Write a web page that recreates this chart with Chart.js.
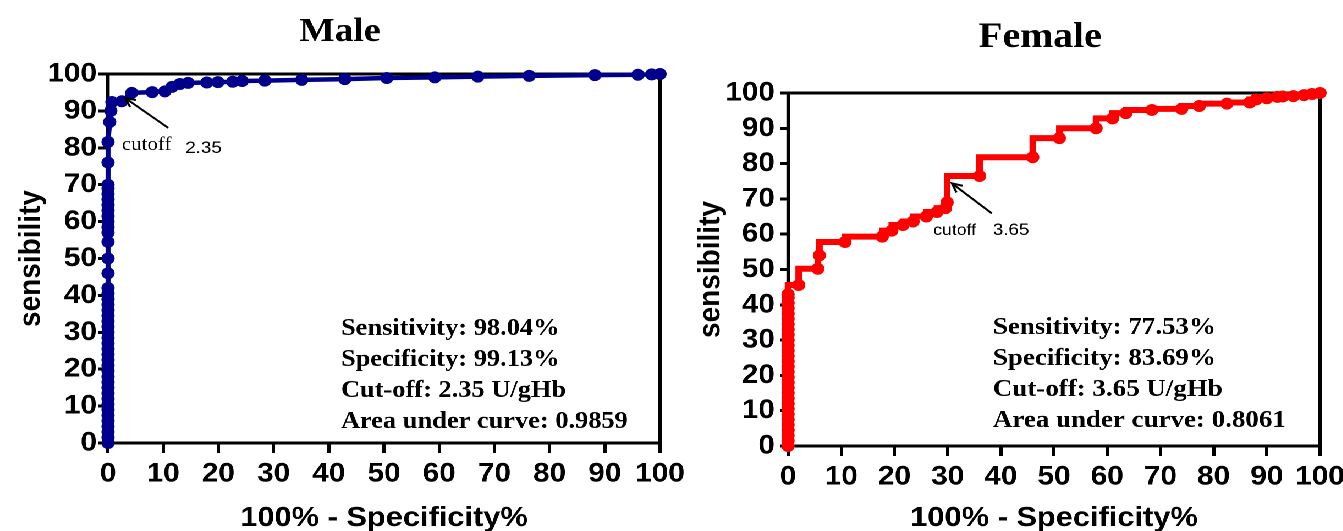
<!DOCTYPE html>
<html>
<head>
<meta charset="utf-8">
<script src="https://cdn.jsdelivr.net/npm/chart.js@4"></script>
<style>
  html, body { margin: 0; padding: 0; background: #fff; overflow: hidden; width: 1343px; height: 531px; }
  #stage { position: absolute; left: 0; top: 0; width: 1221px; height: 531px; transform: scaleX(1.1); transform-origin: 0 0; }
  .box { position: absolute; top: 0; height: 531px; }
</style>
</head>
<body>
<div id="stage">
  <div class="box" style="left:0;width:630px"><canvas id="male"></canvas></div>
  <div class="box" style="left:620px;width:620px"><canvas id="female"></canvas></div>
</div>
<script>
// 100% - Specificity% (x) and sensibility (y)
const maleSpec = [0, 0, 0, 0, 0, 0, 0, 0, 0, 0, 0, 0, 0, 0, 0, 0, 0, 0, 0, 0, 0, 0, 0, 0, 0, 0, 0, 0, 0,
  0, 0, 0, 0, 0, 0, 0, 0, 0, 0, 0, 0, 0, 0, 0,
  0.3, 0.5, 0.7, 2.5, 4.3, 8, 10.3, 11.6, 13, 14.5, 17.9, 19.9, 22.6, 24.3, 28.4, 35.1, 42.9, 50.5, 59.2, 67, 76.3, 88.2, 96, 98.5, 100];
const maleSens = [0, 1.5, 3, 4.5, 6, 7.5, 9, 10.5, 12, 13.5, 15, 16.5, 18, 19.5, 21, 22.5, 24, 25.5, 27, 28.5, 30, 31.5, 33, 34.5, 36, 37.5, 39, 40.5, 42,
  46, 50, 54.5, 57, 58.5, 60, 61.5, 63, 64.5, 66, 67.5, 69, 70, 76, 81.6,
  87, 90, 92.4, 92.6, 94.9, 95.1, 95.3, 96.5, 97.3, 97.6, 97.7, 97.8, 97.9, 98.1, 98.2, 98.4, 98.6, 98.9, 99.1, 99.3, 99.5, 99.7, 99.8, 99.9, 100];

const femaleSpec = [0, 0, 0, 0, 0, 0, 0, 0, 0, 0, 0, 0, 0, 0, 0, 0, 0, 0, 0, 0, 0, 0, 0, 0, 0, 0, 0, 0, 0, 0,
  2, 5.6, 5.9, 10.7, 17.7, 19.5, 21.6, 23.5, 26, 28, 29.6, 29.9, 36, 46, 51, 57.9, 61, 63.5, 68.4, 74, 77.3, 82.5, 86.8, 88, 90, 92, 93, 95, 97, 98.5, 100];
const femaleSens = [0, 1.5, 3, 4.5, 6, 7.5, 9, 10.5, 12, 13.5, 15, 16.5, 18, 19.5, 21, 22.5, 24, 25.5, 27, 28.5, 30, 31.5, 33, 34.5, 36, 37.5, 39, 40.5, 42, 43,
  45.6, 50.2, 54, 57.8, 59.3, 61, 62.6, 63.6, 65, 66.3, 67.4, 69, 76.5, 81.8, 87.2, 90, 92.8, 94.3, 95.2, 95.5, 96.3, 97, 97.3, 98.2, 98.5, 98.9, 99, 99.1, 99.4, 99.7, 100];

const axisTicks = [0, 10, 20, 30, 40, 50, 60, 70, 80, 90, 100];

const maleStats = ['Sensitivity: 98.04%', 'Specificity: 99.13%', 'Cut-off: 2.35 U/gHb', 'Area under curve: 0.9859'];
const femaleStats = ['Sensitivity: 77.53%', 'Specificity: 83.69%', 'Cut-off: 3.65 U/gHb', 'Area under curve: 0.8061'];

// frame, panel title, stats text and cutoff arrow
const decor = {
  id: 'decor',
  beforeDatasetsDraw(chart, args, o) {
    const { ctx, chartArea: a } = chart;
    ctx.save();
    ctx.strokeStyle = '#000';
    ctx.lineWidth = 3;
    ctx.strokeRect(a.left, a.top, a.right - a.left, a.bottom - a.top);
    ctx.restore();
  },
  afterDraw(chart, args, o) {
    const { ctx } = chart;
    const x = chart.scales.x, y = chart.scales.y;
    ctx.save();
    ctx.fillStyle = '#000';
    ctx.strokeStyle = '#000';

    ctx.font = 'bold ' + o.titleSize + 'px "Liberation Serif"';
    ctx.textAlign = 'center';
    ctx.textBaseline = 'alphabetic';
    ctx.fillText(o.title, o.titleX, o.titleY);

    ctx.textAlign = 'left';
    ctx.font = 'bold ' + o.statsSize + 'px "Liberation Serif"';
    const sx = x.getPixelForValue(o.statsAt[0]);
    const sy = y.getPixelForValue(o.statsAt[1]);
    o.stats.forEach((t, i) => ctx.fillText(t, sx, sy + i * 31));

    const tx = x.getPixelForValue(o.tip[0]), ty = y.getPixelForValue(o.tip[1]);
    const fx = x.getPixelForValue(o.tail[0]), fy = y.getPixelForValue(o.tail[1]);
    ctx.lineWidth = 2;
    ctx.beginPath();
    ctx.moveTo(fx, fy);
    ctx.lineTo(tx, ty);
    ctx.stroke();
    const ang = Math.atan2(ty - fy, tx - fx);
    ctx.beginPath();
    ctx.moveTo(tx - 10 * Math.cos(ang - 0.45), ty - 10 * Math.sin(ang - 0.45));
    ctx.lineTo(tx, ty);
    ctx.lineTo(tx - 10 * Math.cos(ang + 0.45), ty - 10 * Math.sin(ang + 0.45));
    ctx.stroke();

    ctx.font = o.cutFont;
    ctx.fillText('cutoff', x.getPixelForValue(o.cutAt[0]), y.getPixelForValue(o.cutAt[1]));
    ctx.font = '17px "Liberation Sans"';
    ctx.fillText(o.cutValue, x.getPixelForValue(o.valueAt[0]), y.getPixelForValue(o.valueAt[1]));
    ctx.restore();
  }
};

function rocChart(id, xs, ys, color, lw, radius, stepped, geo, deco) {
  const pts = xs.map((v, i) => ({ x: v, y: ys[i] }));
  const tickFont = { family: 'Liberation Sans', size: 27, weight: 'bold' };
  const titleFont = { family: 'Liberation Sans', size: 28, weight: 'bold' };
  const grid = { drawOnChartArea: false, drawTicks: true, tickWidth: 3, tickColor: '#000', color: '#000', lineWidth: 3 };
  return new Chart(document.getElementById(id), {
    type: 'line',
    data: {
      datasets: [{
        data: pts,
        borderColor: color,
        backgroundColor: color,
        pointBackgroundColor: color,
        pointBorderWidth: 0,
        pointRadius: radius,
        borderWidth: lw,
        stepped: stepped,
        tension: 0,
        clip: false
      }]
    },
    plugins: [decor],
    options: {
      responsive: true,
      maintainAspectRatio: false,
      animation: false,
      devicePixelRatio: 2,
      events: [],
      layout: { padding: { left: 0, top: geo.top, right: geo.right, bottom: 0 } },
      plugins: {
        legend: { display: false },
        tooltip: { enabled: false },
        decor: deco
      },
      scales: {
        x: {
          type: 'linear', min: 0, max: 100,
          afterBuildTicks: s => { s.ticks = axisTicks.map(v => ({ value: v })); },
          afterFit: s => { s.height = geo.xHeight; s.paddingLeft = 0; s.paddingRight = 0; },
          ticks: { font: tickFont, color: '#000', padding: 5, maxRotation: 0, autoSkip: false },
          grid: Object.assign({ tickLength: 10 }, grid),
          border: { display: true, color: '#000', width: 3 },
          title: { display: true, text: '100% - Specificity%', font: titleFont, color: '#000', padding: { top: 0, bottom: -4 } }
        },
        y: {
          type: 'linear', min: 0, max: 100,
          afterBuildTicks: s => { s.ticks = axisTicks.map(v => ({ value: v })); },
          afterFit: s => { s.width = geo.yWidth; s.paddingTop = 0; s.paddingBottom = 0; },
          ticks: { font: tickFont, color: '#000', padding: geo.yPad, autoSkip: false },
          grid: Object.assign({ tickLength: geo.yTick }, grid),
          border: { display: true, color: '#000', width: 3 },
          title: { display: true, text: 'sensibility', font: titleFont, color: '#000', padding: { top: geo.yTitlePad, bottom: 0 } }
        }
      }
    }
  });
}

rocChart('male', maleSpec, maleSens, '#00008c', 4.5, 6, false,
  { top: 74, right: 30, xHeight: 88, yWidth: 98.2, yTick: 9, yPad: 1, yTitlePad: 11.4 },
  {
    title: 'Male', titleSize: 34, titleX: 309, titleY: 41,
    stats: maleStats, statsSize: 24, statsAt: [42.2, 29.3],
    tip: [3.1, 93.5], tail: [10.9, 85.4],
    cutFont: '19px "Liberation Serif"', cutAt: [2.5, 79.4],
    cutValue: '2.35', valueAt: [14, 78.6]
  });

rocChart('female', femaleSpec, femaleSens, '#ff0000', 6, 6, 'after',
  { top: 93, right: 40, xHeight: 85, yWidth: 96.4, yTick: 7, yPad: 5, yTitlePad: 9.6 },
  {
    title: 'Female', titleSize: 36, titleX: 325.5, titleY: 47,
    stats: femaleStats, statsSize: 24.5, statsAt: [38.5, 31.7],
    tip: [30.8, 74.4], tail: [38.3, 65.9],
    cutFont: '16px "Liberation Sans"', cutAt: [27.3, 59.8],
    cutValue: '3.65', valueAt: [38.5, 59.8]
  });
</script>
</body>
</html>
